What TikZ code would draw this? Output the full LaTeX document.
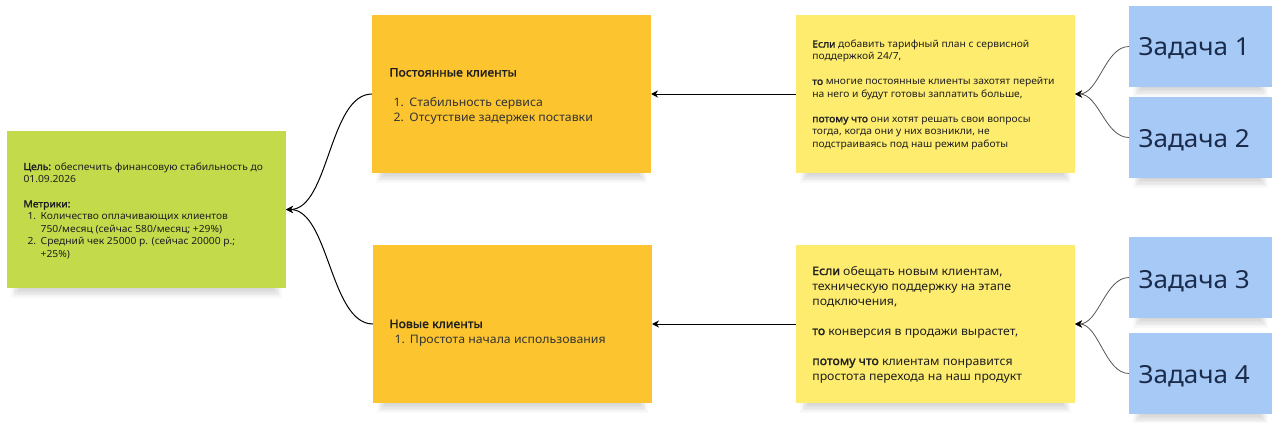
\documentclass[tikz,border=0pt]{standalone}
\usepackage{fontspec}
\setmainfont{Noto Sans}[FakeStretch=1.05, BoldFont={Noto Sans}, BoldFeatures={FakeBold=1.6}]
\usetikzlibrary{arrows.meta,calc}
\definecolor{goalgreen}{HTML}{C3DB4B}
\definecolor{segorange}{HTML}{FCC52F}
\definecolor{hypyellow}{HTML}{FEEC6E}
\definecolor{taskblue}{HTML}{A6C9F6}
\definecolor{ink}{HTML}{1F1F1F}
\definecolor{listink}{HTML}{333333}
\definecolor{taskink}{HTML}{1B2B4B}
\definecolor{taskline}{HTML}{555555}
\pgfdeclarelayer{shadowlayer}
\pgfsetlayers{shadowlayer,main}
\begin{document}
\begin{tikzpicture}[x=1pt,y=-1pt,
  card/.style={rectangle, inner sep=0pt, outer sep=0pt, anchor=north west},
  goalcard/.style={card, fill=goalgreen, minimum width=279pt, minimum height=157pt},
  segcard/.style={card, fill=segorange, minimum width=279pt, minimum height=158pt},
  hypcard/.style={card, fill=hypyellow, minimum width=279pt, minimum height=158pt},
  taskcard/.style={card, fill=taskblue, minimum width=143pt, minimum height=81pt},
  shadowstrip/.style={fill=black, fill opacity=0.022},
  txt/.style={anchor=base west, inner sep=0pt, outer sep=0pt, text=ink},
  smalltxt/.style={txt, font=\fontsize{9.8}{12.45}\selectfont},
  midtxt/.style={txt, font=\fontsize{11.7}{15}\selectfont},
  tasktxt/.style={txt, text=taskink, font=\fontsize{24.8}{28}\selectfont},
  arr/.style={-{Stealth[length=7pt,width=7pt]}, line width=1pt, draw=black},
  taskarr/.style={-{Stealth[length=7pt,width=7pt,color=black]}, line width=0.8pt, draw=taskline},
]
\useasboundingbox (0,0) rectangle (1280,423);

% cards
\node[goalcard] (goal) at (7,131) {};
\node[segcard] (segA) at (372,15) {};
\node[segcard] (segB) at (373,245) {};
\node[hypcard] (hypA) at (796,15) {};
\node[hypcard] (hypB) at (796,245) {};
\node[taskcard] (t1) at (1129,6) {};
\node[taskcard] (t2) at (1129,97) {};
\node[taskcard] (t3) at (1129,237) {};
\node[taskcard] (t4) at (1129,333) {};

% background and soft shadows below the cards
\begin{pgfonlayer}{shadowlayer}
\fill[white] (0,0) rectangle (1280,423);
\foreach \n in {goal,segA,segB,hypA,hypB,t1,t2,t3,t4}{
  \foreach \i in {1,...,7}{
    \fill[shadowstrip] ($(\n.south west)+(14-1.4*\i,-4)$) rectangle ($(\n.south east)+(-14+1.4*\i,1.4*\i)$);
  }
}
\end{pgfonlayer}

% goal text
\node[smalltxt] (goaltext) at (23.5,170) {\begin{tabular}[t]{@{}l@{}}
\textbf{Цель:} обеспечить финансовую стабильность до\\
01.09.2026\\
\\
\textbf{Метрики:}\\
\makebox[17.2pt][l]{\hspace{4pt}1.}Количество оплачивающих клиентов\\
\hspace{17.2pt}750/месяц (сейчас 580/месяц; +29\%)\\
\makebox[17.2pt][l]{\hspace{4pt}2.}Средний чек 25000 р. (сейчас 20000 р.;\\
\hspace{17.2pt}+25\%)
\end{tabular}};

% segment texts
\node[midtxt] (segAtext) at (389.5,76.5) {\begin{tabular}[t]{@{}l@{}}
\textbf{Постоянные клиенты}\\
\\
\color{listink}\makebox[20pt][l]{\hspace{4pt}1.}Стабильность сервиса\\
\color{listink}\makebox[20pt][l]{\hspace{4pt}2.}Отсутствие задержек поставки
\end{tabular}};

\node[midtxt] (segBtext) at (389.5,328) {\begin{tabular}[t]{@{}l@{}}
\textbf{Новые клиенты}\\
\color{listink}\makebox[20.5pt][l]{\hspace{5pt}1.}Простота начала использования
\end{tabular}};

% hypothesis texts
\node[smalltxt] (hypAtext) at (812.3,47.5) {\begin{tabular}[t]{@{}l@{}}
\textbf{Если} добавить тарифный план с сервисной\\
поддержкой 24/7,\\
\\
\textbf{то} многие постоянные клиенты захотят перейти\\
на него и будут готовы заплатить больше,\\
\\
\textbf{потому что} они хотят решать свои вопросы\\
тогда, когда они у них возникли, не\\
подстраиваясь под наш режим работы
\end{tabular}};

\node[midtxt] (hypBtext) at (812.3,275) {\begin{tabular}[t]{@{}l@{}}
\textbf{Если} обещать новым клиентам,\\
техническую поддержку на этапе\\
подключения,\\
\\
\textbf{то} конверсия в продажи вырастет,\\
\\
\textbf{потому что} клиентам понравится\\
простота перехода на наш продукт
\end{tabular}};

% task texts
\node[tasktxt] (t1text) at (1138.5,55.5) {Задача 1};
\node[tasktxt] (t2text) at (1138.5,147) {Задача 2};
\node[tasktxt] (t3text) at (1138.5,288) {Задача 3};
\node[tasktxt] (t4text) at (1138.5,383.5) {Задача 4};

% connectors
\draw[arr] (segA.west) .. controls ($(segA.west)+(-43,0)$) and ($(goal.east)+(43,0)$) .. (goal.east);
\draw[arr] (segB.west) .. controls ($(segB.west)+(-43,0)$) and ($(goal.east)+(43,0)$) .. (goal.east);
\draw[arr] (hypA.west) -- (segA.east);
\draw[arr] (hypB.west) -- (segB.east);
\draw[taskarr] (t1.west) .. controls ($(t1.west)+(-24,0)$) and ($(hypA.east)+(24,0)$) .. (hypA.east);
\draw[taskarr] (t2.west) .. controls ($(t2.west)+(-24,0)$) and ($(hypA.east)+(24,0)$) .. (hypA.east);
\draw[taskarr] (t3.west) .. controls ($(t3.west)+(-24,0)$) and ($(hypB.east)+(24,0)$) .. (hypB.east);
\draw[taskarr] (t4.west) .. controls ($(t4.west)+(-24,0)$) and ($(hypB.east)+(24,0)$) .. (hypB.east);
\end{tikzpicture}
\end{document}
